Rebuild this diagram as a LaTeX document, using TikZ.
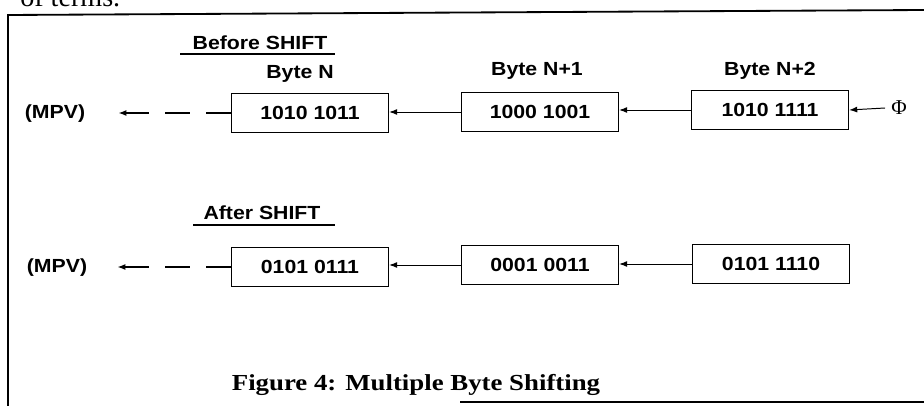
\documentclass[tikz,border=0pt]{standalone}
\usepackage{fontspec}
\usepackage{tikz}
\usetikzlibrary{arrows.meta}
\newfontfamily\diagfont[FakeStretch=1.12]{Liberation Sans}
\newfontfamily\capfont[FakeStretch=1.17]{Liberation Serif}
\newfontfamily\bodyfont{Liberation Serif}
\tikzset{
  bytebox/.style={rectangle, draw=black, line width=1.1pt, minimum width=3.92cm, minimum height=0.97cm, inner sep=0pt, font=\diagfont\bfseries\fontsize{13.5}{16}\selectfont},
  lbl/.style={inner sep=0pt, font=\diagfont\bfseries\fontsize{13.5}{16}\selectfont},
  shiftarrow/.style={-{Latex[length=2mm,width=1.5mm]}, line width=0.7pt},
  outarrow/.style={shiftarrow, line width=0.9pt, dash pattern=on 0.625cm off 0.4cm},
  frame/.style={line width=1.3pt}
}

\begin{document}
\begin{tikzpicture}[x=0.025cm, y=-0.025cm]
\clip (0,0) rectangle (924,406);
\fill[white] (0,0) rectangle (924,406);
% page text and frame
\node[anchor=base west, inner sep=0pt, font=\bodyfont\fontsize{20}{24}\selectfont] (pagetext) at (20,7) {of terms.};
\draw[frame] (8,406) -- (8,15) -- (924,10);
\draw[frame] (460,402) -- (924,402);
% before shift
\node[lbl] (before) at (260,43) {Before SHIFT};
\draw[line width=0.9pt] (180,54) -- (335,54);
\node[lbl] (lblN) at (300,74) {Byte N};
\node[lbl] (lblN1) at (537,71) {Byte N+1};
\node[lbl] (lblN2) at (770,71) {Byte N+2};
\node[bytebox] (b1) at (310,113) {1010 1011};
\node[bytebox] (b2) at (540,112) {1000 1001};
\node[bytebox] (b3) at (770,110) {1010 1111};
\node[lbl] (mpv1) at (55,114) {(MPV)};
\node[inner sep=0.15cm, font=\bodyfont\fontsize{15}{18}\selectfont] (phi) at (899,108) {Φ};
\draw[shiftarrow] (phi.west) -- (b3.east);
\draw[shiftarrow] (b3.west) -- (b3.west -| b2.east);
\draw[shiftarrow] (b2.west) -- (b2.west -| b1.east);
\draw[outarrow, shorten >=0.825cm] (b1.west) -- (b1.west -| mpv1.east);
% after shift
\node[lbl] (after) at (262,213) {After SHIFT};
\draw[line width=0.9pt] (193,225) -- (335,225);
\node[bytebox] (a1) at (310,267) {0101 0111};
\node[bytebox] (a2) at (540,265) {0001 0011};
\node[bytebox] (a3) at (771,264) {0101 1110};
\node[lbl] (mpv2) at (57,268) {(MPV)};
\draw[shiftarrow] (a3.west) -- (a3.west -| a2.east);
\draw[shiftarrow] (a2.west) -- (a2.west -| a1.east);
\draw[outarrow, shorten >=0.75cm] (a1.west) -- (a1.west -| mpv2.east);
% caption
\node[inner sep=0pt, font=\capfont\bfseries\fontsize{16.3}{19}\selectfont] (caption) at (416,385) {Figure 4: Multiple Byte Shifting};
\end{tikzpicture}
\end{document}
